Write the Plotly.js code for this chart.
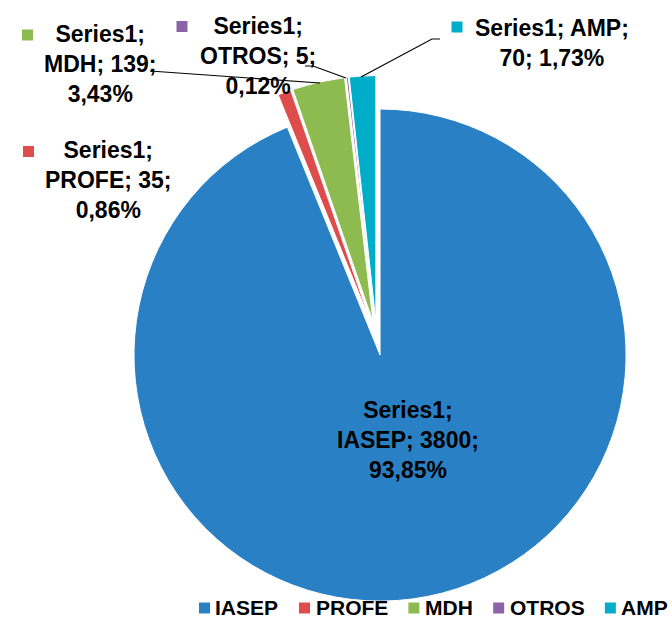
<!DOCTYPE html>
<html>
<head>
<meta charset="utf-8">
<script src="https://cdn.plot.ly/plotly-3.0.1.min.js"></script>
<style>html,body{margin:0;padding:0;background:#fff;}#chart{width:672px;height:619px;}</style>
</head>
<body>
<div id="chart"></div>
<script>
// ---- data ----
var seriesName = 'Series1';
var categories = ['IASEP', 'PROFE', 'MDH', 'OTROS', 'AMP'];
var values = [3800, 35, 139, 5, 70];
var colors = ['#2980C4', '#DE4D4C', '#8EBB4F', '#8A63A8', '#00ADC8'];
// where the label lines break (layout only)
var breaks = [[1, 3], [1, 3], [1, 3], [1, 3], [2]];

var W = 672, H = 619;
function px(x) { return x / W; }
function py(y) { return 1 - y / H; }

var total = values.reduce(function (a, b) { return a + b; }, 0);
function pctText(v) { return (v / total * 100).toFixed(2).replace('.', ',') + '%'; }
function labelText(i) {
  var parts = [seriesName, categories[i], String(values[i]), pctText(values[i])];
  var out = '';
  for (var k = 0; k < parts.length; k++) {
    out += parts[k];
    if (k < parts.length - 1) {
      out += ';';
      out += (breaks[i].indexOf(k + 1) >= 0) ? '<br>' : ' ';
    }
  }
  return out;
}

// label placement (pixel centres) and legend-key square positions
var labelPos = [[408, 440], [108, 180], [100, 64], [258, 56], [552, 43]];
var keyPos = [null, [28.5, 151.5], [27.5, 35], [182, 26.5], [457, 27]];

var FAMILY = 'Liberation Sans, Arial, sans-serif';
var labelFont = { family: FAMILY, size: 23, color: '#000', weight: 'bold' };
var legendFont = { family: FAMILY, size: 21, color: '#000', weight: 'bold' };

var annotations = [];
var shapes = [];
function square(cx, cy, s, color) {
  shapes.push({
    type: 'rect', xref: 'paper', yref: 'paper',
    x0: px(cx - s), x1: px(cx + s), y0: py(cy + s), y1: py(cy - s),
    fillcolor: color, line: { width: 0 }
  });
}
for (var i = 0; i < categories.length; i++) {
  annotations.push({
    xref: 'paper', yref: 'paper', x: px(labelPos[i][0]), y: py(labelPos[i][1]),
    xanchor: 'center', yanchor: 'middle', showarrow: false, align: 'center',
    text: labelText(i), font: labelFont
  });
  if (keyPos[i]) square(keyPos[i][0], keyPos[i][1], 5.5, colors[i]);
}
// leader lines
function pathFrom(pts) {
  return pts.map(function (p, k) { return (k ? 'L' : 'M') + px(p[0]) + ',' + py(p[1]); }).join(' ');
}
var leaders = [
  [[150, 71], [320, 83]],
  [[305, 66], [313, 66], [346, 78]],
  [[440, 39], [432, 39], [361, 77]]
];
leaders.forEach(function (pts) {
  shapes.push({ type: 'path', xref: 'paper', yref: 'paper', path: pathFrom(pts), line: { color: '#000', width: 1.2 } });
});

// legend (horizontal row at the bottom, laid out from measured text widths)
var ctx = document.createElement('canvas').getContext('2d');
ctx.font = 'bold 21px "Liberation Sans", Arial, sans-serif';
var legX = 199, legY = 607;
for (var j = 0; j < categories.length; j++) {
  var tw = ctx.measureText(categories[j]).width;
  square(legX + 5.5, legY + 1, 5.5, colors[j]);
  annotations.push({
    xref: 'paper', yref: 'paper', x: px(legX + 16.5 - 1), y: py(legY),
    xanchor: 'left', yanchor: 'middle', showarrow: false,
    text: categories[j], font: legendFont, borderpad: 0
  });
  legX = legX + 16.5 + tw + 20.5;
}

var trace = {
  type: 'pie',
  labels: categories,
  values: values,
  sort: false,
  direction: 'clockwise',
  rotation: 0,
  pull: [0.0685, 0.0685, 0.0685, 0.0685, 0.0685],
  marker: { colors: colors, line: { color: '#fff', width: 1 } },
  textinfo: 'none',
  hoverinfo: 'label+value+percent',
  domain: { x: [113.9 / W, 639.7 / W], y: [1 - 601.4 / H, 1 - 75.6 / H] }
};

var layout = {
  width: W, height: H,
  margin: { l: 0, r: 0, t: 0, b: 0, autoexpand: false },
  paper_bgcolor: '#fff',
  showlegend: false,
  annotations: annotations,
  shapes: shapes
};

Plotly.newPlot('chart', [trace], layout, { displayModeBar: false, staticPlot: true });
</script>
</body>
</html>
